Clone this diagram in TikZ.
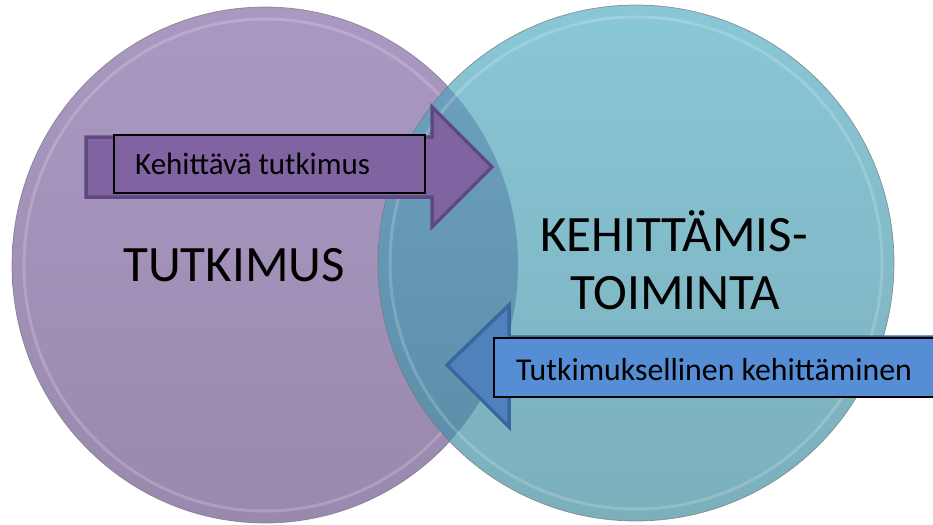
\documentclass[tikz,border=0pt]{standalone}
\usepackage{fontspec}
\setmainfont{Carlito}
\definecolor{lcTop}{HTML}{A999C2}
\definecolor{lcBot}{HTML}{9A89AE}
\definecolor{rcTop}{HTML}{89C7D7}
\definecolor{rcBot}{HTML}{7BAFBC}
\definecolor{ovTop}{HTML}{6FA2C0}
\definecolor{ovBot}{HTML}{5A8CA7}
\definecolor{arrP}{HTML}{8064A2}
\definecolor{arrPd}{HTML}{5E4A7E}
\definecolor{boxB}{HTML}{558ED5}
\definecolor{arrB}{HTML}{4F81BD}
\definecolor{arrBd}{HTML}{3A67A0}
\begin{document}
\begin{tikzpicture}[x=1pt,y=-1pt,
  bigtxt/.style={font=\fontsize{51}{58}\selectfont, inner sep=0pt, anchor=base},
  smalltxt/.style={font=\fontsize{31}{36}\selectfont, inner sep=0pt, anchor=base west},
  labelbox/.style={draw=black, line width=1.5pt, inner sep=0pt},
  rim/.style={white, opacity=0.18, line width=3pt},
  edge/.style={black!55, opacity=0.7, line width=0.7pt}]
\useasboundingbox (0,0) rectangle (933,524);
\fill[white] (0,0) rectangle (933,524);
% left circle
\shade[top color=lcTop, bottom color=lcBot] (265,265) ellipse [x radius=253pt, y radius=258pt];
\draw[rim] (265,265) ellipse [x radius=241pt, y radius=246pt];
\draw[edge] (265,265) ellipse [x radius=253pt, y radius=258pt];
% right circle
\shade[top color=rcTop, bottom color=rcBot] (636,263) circle [radius=258pt];
\begin{scope}
  \clip (265,265) ellipse [x radius=253pt, y radius=258pt];
  \shade[top color=ovTop, bottom color=ovBot] (636,263) circle [radius=258pt];
\end{scope}
\draw[rim] (636,263) circle [radius=246pt];
\draw[edge] (636,263) circle [radius=258pt];
% purple arrow
\draw[fill=arrP, draw=arrPd, line width=3.5pt, line join=miter]
  (86,137) -- (432,137) -- (432,107) -- (492,167) -- (432,227) -- (432,197) -- (86,197) -- cycle;
\node[labelbox, fill=arrP, minimum width=311pt, minimum height=58pt] (kbox) at (269.5,164) {};
\node[smalltxt] (ktxt) at (135,174) {Kehittävä tutkimus};
% blue arrow
\draw[fill=arrB, draw=arrBd, line width=3.5pt, line join=miter]
  (447,365) -- (509,305) -- (509,337) -- (945,337) -- (945,396) -- (509,396) -- (509,427) -- cycle;
\node[labelbox, fill=boxB, minimum width=451pt, minimum height=59pt] (tbox) at (719.5,367.5) {};
\node[smalltxt, font=\fontsize{31.8}{36}\selectfont] (ttxt) at (516,380) {Tutkimuksellinen kehittäminen};
% big labels
\node[bigtxt] (tut) at (234,281) {TUTKIMUS};
\node[bigtxt] (keh) at (674,251) {KEHITTÄMIS-};
\node[bigtxt] (toi) at (675,309) {TOIMINTA};
\end{tikzpicture}
\end{document}
